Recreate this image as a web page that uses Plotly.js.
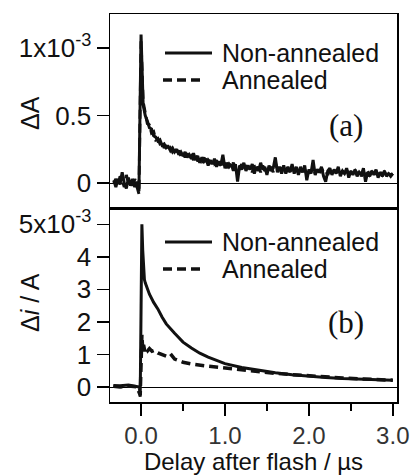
<!DOCTYPE html>
<html>
<head>
<meta charset="utf-8">
<script src="https://cdn.plot.ly/plotly-3.0.1.min.js"></script>
<style>html,body{margin:0;padding:0;background:#fff;}#chart{width:413px;height:475px;}</style>
</head>
<body>
<div id="chart"></div>
<script>
// ---------- DATA ----------
// Panel (a): ΔA (units of 1e-3), uniform sampling starting at tA0 with step dtA (µs)
const tA0 = -0.325;
const dtA = 0.025;
const dA_nonannealed = [
  0.02,-0.03,0.03,-0.01,0.08,0.00,-0.04,0.04,-0.02,0.03,-0.03,0.01,-0.06,
  1.10,0.58,0.50,0.46,0.41,0.40,0.35,0.34,0.31,0.32,0.28,0.29,0.26,0.27,0.24,0.26,
  0.23,0.25,0.21,0.23,0.20,0.23,0.19,0.21,0.18,0.22,0.17,0.20,0.15,0.19,0.16,0.18,
  0.13,0.17,0.14,0.18,0.12,0.16,0.13,0.21,0.11,0.15,0.12,0.14,0.09,0.14,0.01,0.13,
  0.10,0.15,0.09,0.13,0.10,0.14,0.07,0.12,0.09,0.15,0.10,0.12,0.06,0.13,0.09,0.11,
  0.19,0.08,0.12,0.09,0.13,0.07,0.11,0.08,0.14,0.07,0.12,0.06,0.11,0.08,0.13,0.02,
  0.10,0.07,0.17,0.06,0.10,0.08,0.12,0.05,0.01,0.09,0.11,0.06,0.10,0.07,0.12,0.05,
  0.09,0.07,0.11,0.04,0.09,0.06,0.10,0.05,0.08,0.06,0.11,0.01,0.08,0.05,0.09,0.06,
  0.10,0.04,0.08,0.06,0.09,0.05,0.07,0.06,0.07
];
const dA_annealed = [
  0.00,0.03,-0.02,0.05,0.02,-0.03,0.06,-0.01,0.02,-0.04,0.03,-0.02,-0.08,
  1.05,0.60,0.52,0.44,0.43,0.37,0.38,0.32,0.33,0.29,0.30,0.26,0.28,0.24,0.26,0.23,
  0.25,0.22,0.24,0.20,0.22,0.19,0.22,0.18,0.20,0.17,0.21,0.16,0.18,0.15,0.19,0.14,
  0.17,0.15,0.16,0.13,0.17,0.12,0.15,0.14,0.16,0.11,0.14,0.12,0.15,0.10,0.12,0.11,
  0.14,0.09,0.13,0.11,0.12,0.08,0.13,0.10,0.12,0.08,0.13,0.09,0.11,0.10,0.12,0.08,
  0.15,0.10,0.11,0.07,0.12,0.09,0.12,0.08,0.11,0.09,0.10,0.07,0.12,0.08,0.10,0.07,
  0.11,0.08,0.12,0.07,0.10,0.06,0.11,0.08,0.09,0.06,0.10,0.07,0.09,0.08,0.10,0.06,
  0.09,0.07,0.10,0.06,0.08,0.07,0.09,0.06,0.09,0.05,0.08,0.06,0.09,0.06,0.08,0.05,
  0.09,0.06,0.08,0.05,0.08,0.06,0.07,0.05,0.07
];

// Panel (b): Δi / A (units of 1e-3)
const tB_nonannealed = [-0.33,-0.25,-0.15,-0.05,-0.02,-0.01,0.0,0.01,0.02,0.03,0.04,0.05,0.07,0.1,0.15,0.2,0.25,0.3,0.4,0.5,0.6,0.7,0.8,1.0,1.2,1.4,1.6,1.8,2.0,2.2,2.4,2.6,2.8,3.0];
const dI_nonannealed = [0.05,0.04,0.06,0.03,0.0,-0.3,2.0,5.0,4.2,3.4,3.3,3.2,3.05,2.85,2.6,2.4,2.15,1.94,1.65,1.38,1.2,1.04,0.92,0.72,0.6,0.51,0.44,0.38,0.33,0.29,0.26,0.24,0.22,0.21];
const tB_annealed = [-0.33,-0.25,-0.15,-0.05,-0.01,0.0,0.01,0.02,0.03,0.045,0.06,0.08,0.1,0.13,0.16,0.2,0.25,0.3,0.35,0.4,0.5,0.6,0.8,1.0,1.2,1.4,1.6,1.8,2.0,2.2,2.4,2.6,2.8,3.0];
const dI_annealed = [0.02,0.0,0.03,0.01,-0.25,0.6,1.6,1.15,1.3,1.1,1.22,1.12,1.18,1.1,1.13,1.05,1.0,0.95,1.02,0.86,0.76,0.71,0.64,0.58,0.52,0.48,0.42,0.38,0.34,0.31,0.28,0.25,0.23,0.21];

const seriesNames = ['Non-annealed', 'Annealed'];
const xTickVals = [0, 1, 2, 3];
const xTickText = ['0.0','1.0','2.0','3.0'];
const xMinorVals = [0.5, 1.5, 2.5];
const yTicksA = [0, 0.5, 1];
const yTickTextA = ['0', '0.5', '1x10<sup>-3</sup>'];
const yTicksB = [0, 1, 2, 3, 4, 5];
const yTickTextB = ['0', '1', '2', '3', '4', '5x10<sup>-3</sup>'];

// ---------- LAYOUT HELPERS ----------
const L = 110, R = 16, T = 14, Bm = 73, W = 413, H = 475;
const PW = W - L - R, PH = H - T - Bm, BOT = H - Bm;
const px = x => (x - L) / PW;
const py = y => (BOT - y) / PH;
const SANS = 'Liberation Sans, Arial, sans-serif';
const SERIF = 'Liberation Serif, Times New Roman, serif';
const DASH = '9px,5px';

const traces = [
  {x0: tA0, dx: dtA, y: dA_nonannealed, xaxis: 'x', yaxis: 'y', mode: 'lines', name: seriesNames[0],
   line: {color: '#111', width: 3}},
  {x0: tA0, dx: dtA, y: dA_annealed, xaxis: 'x', yaxis: 'y', mode: 'lines', name: seriesNames[1],
   line: {color: '#111', width: 3, dash: DASH}},
  {x: tB_nonannealed, y: dI_nonannealed, xaxis: 'x2', yaxis: 'y2', mode: 'lines', name: seriesNames[0],
   line: {color: '#111', width: 3}},
  {x: tB_annealed, y: dI_annealed, xaxis: 'x2', yaxis: 'y2', mode: 'lines', name: seriesNames[1],
   line: {color: '#111', width: 3.5, dash: DASH}}
];

const axisCommon = {showline: true, mirror: true, linecolor: '#000', linewidth: 1.5, showgrid: false};
const xr = [-0.37, 3.05];

// legend drawn as shapes + annotations
function legendShapes(ySolid, yDash) {
  return [
    {type: 'line', xref: 'paper', yref: 'paper', x0: px(165), x1: px(212), y0: py(ySolid), y1: py(ySolid),
     line: {color: '#111', width: 3}},
    {type: 'line', xref: 'paper', yref: 'paper', x0: px(163), x1: px(205), y0: py(yDash), y1: py(yDash),
     line: {color: '#111', width: 3.5, dash: DASH}}
  ];
}
function legendTexts(ySolid, yDash) {
  return [
    {text: seriesNames[0], xref: 'paper', yref: 'paper', x: px(220), y: py(ySolid), xanchor: 'left', yanchor: 'middle',
     showarrow: false, font: {family: SANS, size: 25, color: '#111'}},
    {text: seriesNames[1], xref: 'paper', yref: 'paper', x: px(220), y: py(yDash), xanchor: 'left', yanchor: 'middle',
     showarrow: false, font: {family: SANS, size: 25, color: '#111'}}
  ];
}

const layout = {
  width: W, height: H,
  margin: {l: L, r: R, t: T, b: Bm, pad: 0},
  paper_bgcolor: '#fff', plot_bgcolor: '#fff',
  showlegend: false,
  font: {family: SANS, size: 25, color: '#111'},
  xaxis: Object.assign({}, axisCommon, {domain: [0, 1], anchor: 'y', range: xr, showticklabels: false,
    ticks: '', zeroline: false}),
  xaxis2: Object.assign({}, axisCommon, {domain: [0, 1], anchor: 'y2', range: xr, matches: 'x', zeroline: false,
    ticks: 'outside', ticklen: 12, tickwidth: 1.5, tickcolor: '#000', tickmode: 'array',
    tickvals: xTickVals, ticktext: xTickText,
    minor: {tickmode: 'array', tickvals: xMinorVals, ticks: 'outside', ticklen: 7, tickwidth: 1.5, tickcolor: '#000'},
    tickfont: {family: SANS, size: 24, color: '#333'},
    title: {text: 'Delay after flash / µs', font: {family: SANS, size: 24, color: '#111'}, standoff: 2}}),
  yaxis: Object.assign({}, axisCommon, {domain: [0.5, 1], anchor: 'x', range: [-0.185, 1.252],
    tickmode: 'array', tickvals: yTicksA, ticktext: yTickTextA,
    ticks: 'outside', ticklen: 12, tickwidth: 1.5, tickcolor: '#000',
    tickfont: {family: SANS, size: 26, color: '#111'},
    zeroline: true, zerolinecolor: '#000', zerolinewidth: 1}),
  yaxis2: Object.assign({}, axisCommon, {domain: [0, 0.5], anchor: 'x2', range: [-0.46, 5.5],
    tickmode: 'array', tickvals: yTicksB, ticktext: yTickTextB,
    ticks: 'outside', ticklen: 12, tickwidth: 1.5, tickcolor: '#000',
    tickfont: {family: SANS, size: 26, color: '#111'},
    zeroline: true, zerolinecolor: '#000', zerolinewidth: 1}),
  shapes: [].concat(legendShapes(53, 80), legendShapes(242, 269)),
  annotations: [].concat(legendTexts(53, 80), legendTexts(242, 269), [
    {text: '(a)', xref: 'paper', yref: 'paper', x: px(346), y: py(125), xanchor: 'center', yanchor: 'middle',
     showarrow: false, font: {family: SERIF, size: 31, color: '#111'}},
    {text: '(b)', xref: 'paper', yref: 'paper', x: px(346), y: py(322), xanchor: 'center', yanchor: 'middle',
     showarrow: false, font: {family: SERIF, size: 31, color: '#111'}},
    {text: 'ΔA', xref: 'paper', yref: 'paper', x: px(30), y: py(113), xanchor: 'center', yanchor: 'middle',
     textangle: -90, showarrow: false, font: {family: SANS, size: 25, color: '#111'}},
    {text: 'Δ<i>i</i> / A', xref: 'paper', yref: 'paper', x: px(30), y: py(303), xanchor: 'center', yanchor: 'middle',
     textangle: -90, showarrow: false, font: {family: SANS, size: 25, color: '#111'}}
  ])
};

Plotly.newPlot('chart', traces, layout, {staticPlot: true, displayModeBar: false});
</script>
</body>
</html>
